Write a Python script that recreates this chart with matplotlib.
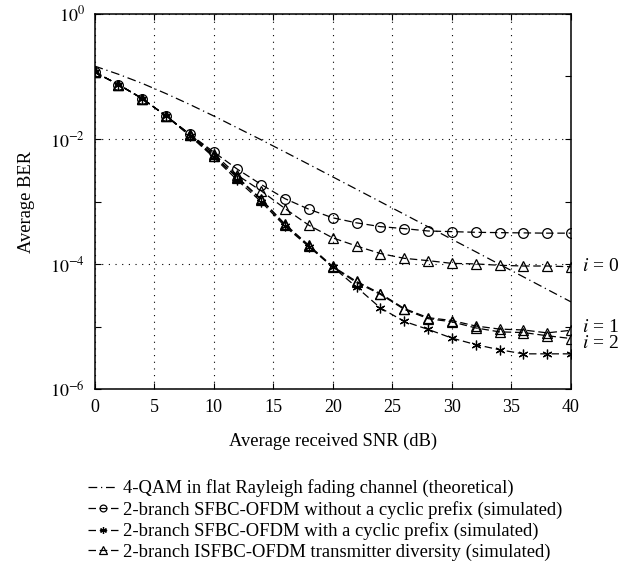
import numpy as np
import matplotlib
matplotlib.use('Agg')
import matplotlib.pyplot as plt

plt.rcParams['font.family'] = ['Liberation Serif', 'DejaVu Serif']
plt.rcParams['mathtext.fontset'] = 'stix'

snr_db = [0, 2, 4, 6, 8, 10, 12, 14, 16, 18, 20, 22, 24, 26, 28, 30, 32, 34, 36, 38, 40]

ber_theory = [0.146, 0.108, 0.0772, 0.053, 0.0355, 0.0233, 0.0150, 0.00967, 0.00617, 0.00392,
              0.00248, 0.00157, 0.000992, 0.000627, 0.000396, 0.00025, 0.000158, 9.95e-5,
              6.28e-5, 3.96e-5, 2.5e-5]
ber_no_cp = [0.117, 0.074, 0.0442, 0.0233, 0.0119, 0.0062, 0.00328, 0.00187, 0.00111, 0.000753,
             0.00055, 0.000457, 0.000398, 0.00037, 0.000339, 0.000331, 0.000323, 0.000319,
             0.000316, 0.000313, 0.000313]
ber_cp = [0.117, 0.074, 0.0442, 0.0233, 0.0112, 0.0051, 0.00219, 0.00099, 0.0004, 0.00019,
          9e-5, 4.3e-5, 2.0e-5, 1.22e-5, 9.1e-6, 6.6e-6, 5.2e-6, 4.3e-6, 3.7e-6, 3.7e-6, 3.7e-6]
ber_i0 = [0.117, 0.074, 0.0442, 0.0233, 0.0119, 0.0058, 0.00263, 0.00148, 0.00077, 0.000418,
          0.000263, 0.000195, 0.000148, 0.000124, 0.000114, 0.000103, 0.000101, 9.6e-5,
          9.35e-5, 9.35e-5, 9.1e-5]
ber_i1 = [0.117, 0.074, 0.0442, 0.0233, 0.0117, 0.0054, 0.00245, 0.00109, 0.000434, 0.0002,
          9.2e-5, 5.3e-5, 3.4e-5, 1.96e-5, 1.4e-5, 1.26e-5, 1.03e-5, 9.2e-6, 8.9e-6, 8.0e-6, 8.8e-6]
ber_i2 = [0.117, 0.074, 0.0442, 0.0233, 0.0116, 0.0053, 0.0024, 0.00106, 0.00042, 0.000195,
          8.9e-5, 5.1e-5, 3.3e-5, 1.9e-5, 1.35e-5, 1.2e-5, 9.6e-6, 8.3e-6, 8.1e-6, 7.2e-6, 6.5e-6]

labels = ['4-QAM in flat Rayleigh fading channel (theoretical)',
          '2-branch SFBC-OFDM without a cyclic prefix (simulated)',
          '2-branch SFBC-OFDM with a cyclic prefix (simulated)',
          '2-branch ISFBC-OFDM transmitter diversity (simulated)']
i_labels = ['$i$ = 0', '$i$ = 1', '$i$ = 2']

fig = plt.figure(figsize=(6.43, 5.71), dpi=100)
ax = fig.add_axes([0.147, 0.318, 0.741, 0.658])

fs = 13
h_theory, = ax.semilogy(snr_db, ber_theory, color='black', lw=0.9, ls=(0, (7, 3, 1, 3)))
h_nocp, = ax.semilogy(snr_db, ber_no_cp, color='black', lw=0.9, ls=(0, (6, 3)),
                      marker='o', ms=7, mfc='none', mew=0.9)
h_cp, = ax.semilogy(snr_db, ber_cp, color='black', lw=0.9, ls=(0, (6, 3)),
                    marker=(6, 2, 0), ms=7, mew=0.9)
h_tri, = ax.semilogy(snr_db, ber_i0, color='black', lw=0.9, ls=(0, (6, 3)),
                     marker='^', ms=7.5, mfc='none', mew=0.9)
for ser in [ber_i1, ber_i2]:
    ax.semilogy(snr_db, ser, color='black', lw=0.9, ls=(0, (6, 3)),
                marker='^', ms=7.5, mfc='none', mew=0.9)

ax.set_xlim(0, 40)
ax.set_ylim(1e-6, 1)
ax.set_xticks([0, 5, 10, 15, 20, 25, 30, 35, 40])
ax.set_yticks([1e-6, 1e-4, 1e-2, 1])
ax.set_yticklabels(['$10^{-6}$', '$10^{-4}$', '$10^{-2}$', '$10^{0}$'])
ax.set_yticks([1e-5, 1e-3, 1e-1], minor=True)
ax.set_yticklabels([], minor=True)
ax.tick_params(which='both', direction='in', labelsize=fs, length=4, width=0.8,
               top=True, right=True)
ax.tick_params(axis='x', pad=7)
ax.tick_params(axis='y', pad=7)
ax.grid(True, which='major', color='black', ls=(0, (1, 5)), lw=0.8)
for s in ax.spines.values():
    s.set_linewidth(1.1)

ax.set_xlabel('Average received SNR (dB)', fontsize=fs + 0.3, labelpad=12)
ax.set_ylabel('Average BER', fontsize=fs + 0.3, labelpad=11)

for txt, yv in zip(i_labels, [ber_i0[-1], ber_i1[-1] * 1.12, ber_i2[-1] * 0.82]):
    ax.text(40.9, yv, txt, fontsize=fs + 1, va='center', ha='left', clip_on=False)

fig.legend([h_theory, h_nocp, h_cp, h_tri], labels, loc='upper left',
           bbox_to_anchor=(0.123, 0.177), frameon=False, fontsize=fs + 0.4,
           handlelength=1.6, handletextpad=0.25, labelspacing=0.19, borderpad=0,
           markerscale=0.7)

fig.savefig('out.png', dpi=100)
